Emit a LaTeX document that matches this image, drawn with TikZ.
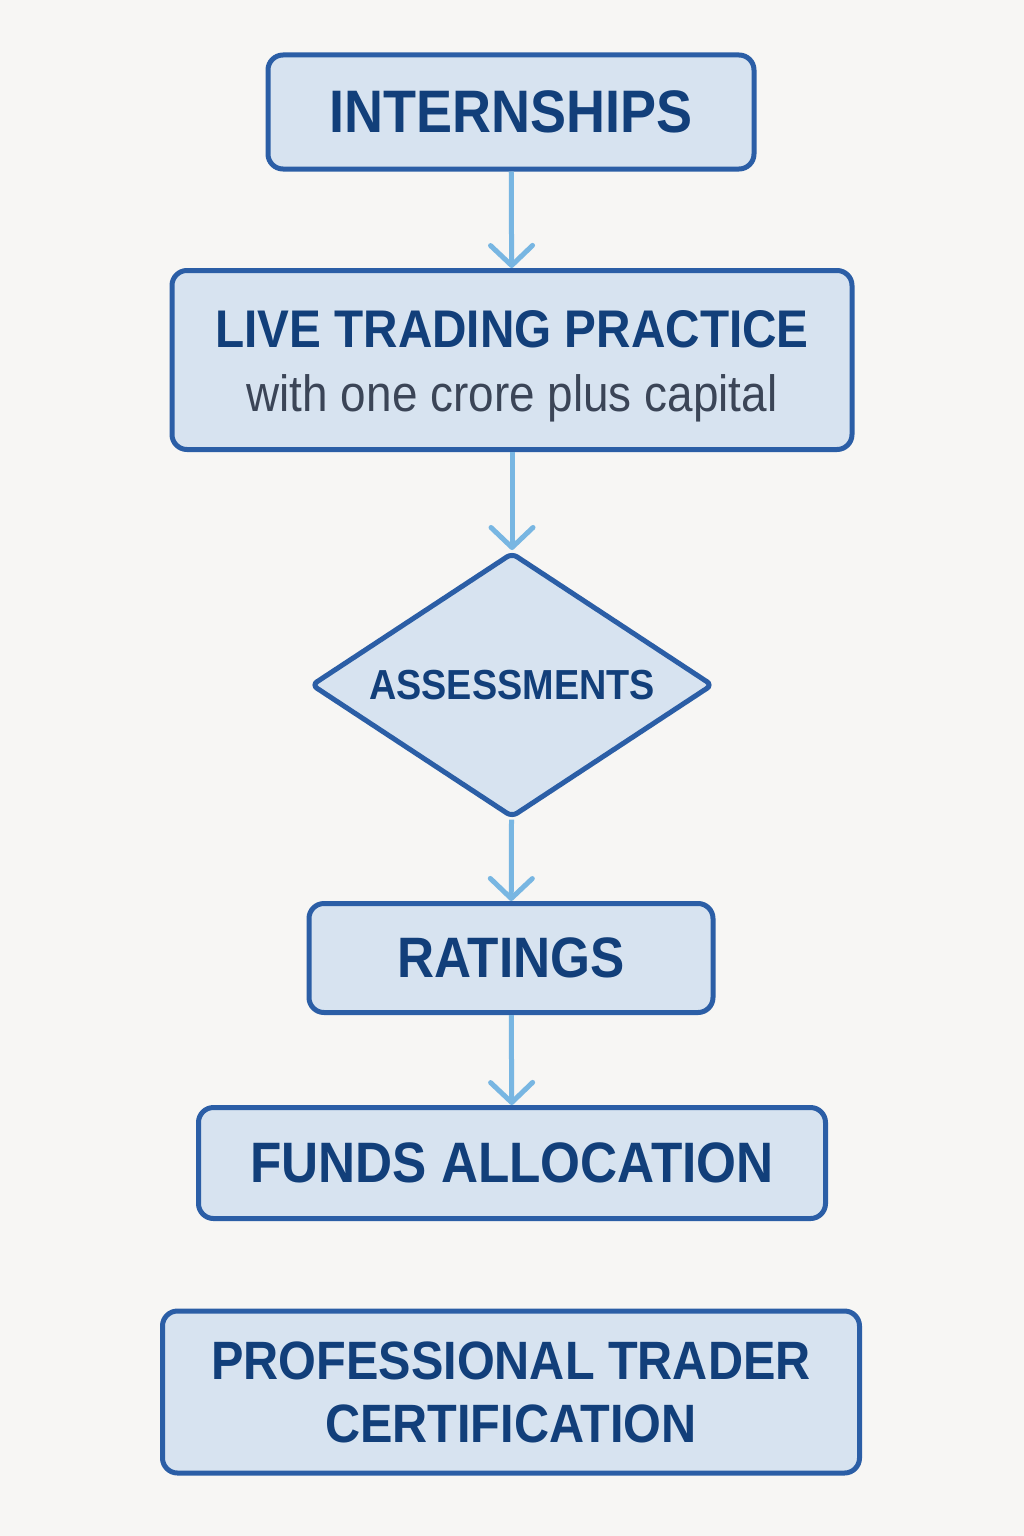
\documentclass[tikz,border=0pt]{standalone}
\usepackage{fontspec}
\setmainfont{Liberation Sans}[FakeStretch=0.9]
\usepackage{tikz}
\usetikzlibrary{shapes.geometric,arrows.meta}
\usepackage{xcolor}

\definecolor{pagebg}{HTML}{F7F6F4}
\definecolor{boxfill}{HTML}{D7E3F0}
\definecolor{boxline}{HTML}{2B5EA6}
\definecolor{textblue}{HTML}{123F7A}
\definecolor{subgray}{HTML}{3B4557}
\definecolor{arrowblue}{HTML}{78B6E2}

\tikzset{
	stagebox/.style={draw=boxline, fill=boxfill, line width=5pt, rounded corners=15pt,
		text=textblue, align=center, inner sep=0pt},
	decisionbox/.style={draw=boxline, fill=boxfill, line width=5pt, diamond, aspect=1.53,
		rounded corners=6pt, text=textblue, inner sep=0pt},
	flowarrow/.style={draw=arrowblue, line width=5pt,
		-{Straight Barb[length=20pt,width=42pt,line width=5pt,round]}}
}

\begin{document}
\begin{tikzpicture}[x=1pt,y=-1pt]
		\useasboundingbox (0,0) rectangle (1024,1536);
		\fill[pagebg] (0,0) rectangle (1024,1536);

		% stages
		\node[stagebox, minimum width=486pt, minimum height=114pt,
			font=\fontsize{60}{72}\selectfont\bfseries] (intern) at (511,112) {INTERNSHIPS};
		\node[stagebox, minimum width=680pt, minimum height=179pt,
			font=\fontsize{53}{62}\selectfont\bfseries] (live) at (512,360)
			{\rule{0pt}{50pt}LIVE TRADING PRACTICE\\[2pt]
			{\fontsize{51}{62}\selectfont\mdseries\color{subgray}with one crore plus capital}};
		\node[decisionbox, minimum width=402pt, minimum height=265pt,
			font=\fontsize{42}{50}\selectfont\bfseries] (assess) at (512,685) {ASSESSMENTS};
		\node[stagebox, minimum width=404pt, minimum height=109pt,
			font=\fontsize{57}{68}\selectfont\bfseries] (rate) at (511,958) {RATINGS};
		\node[stagebox, minimum width=627pt, minimum height=111pt,
			font=\fontsize{57}{68}\selectfont\bfseries] (funds) at (512,1163) {FUNDS ALLOCATION};
		\node[stagebox, minimum width=697pt, minimum height=162pt,
			font=\fontsize{54}{63}\selectfont\bfseries] (cert) at (511,1392)
			{PROFESSIONAL TRADER\\CERTIFICATION};

		% connectors
		\draw[flowarrow] (intern) -- (live);
		\draw[flowarrow] (live) -- (assess);
		\draw[flowarrow] (assess) -- (rate);
		\draw[flowarrow] (rate) -- (funds);
	\end{tikzpicture}
\end{document}
